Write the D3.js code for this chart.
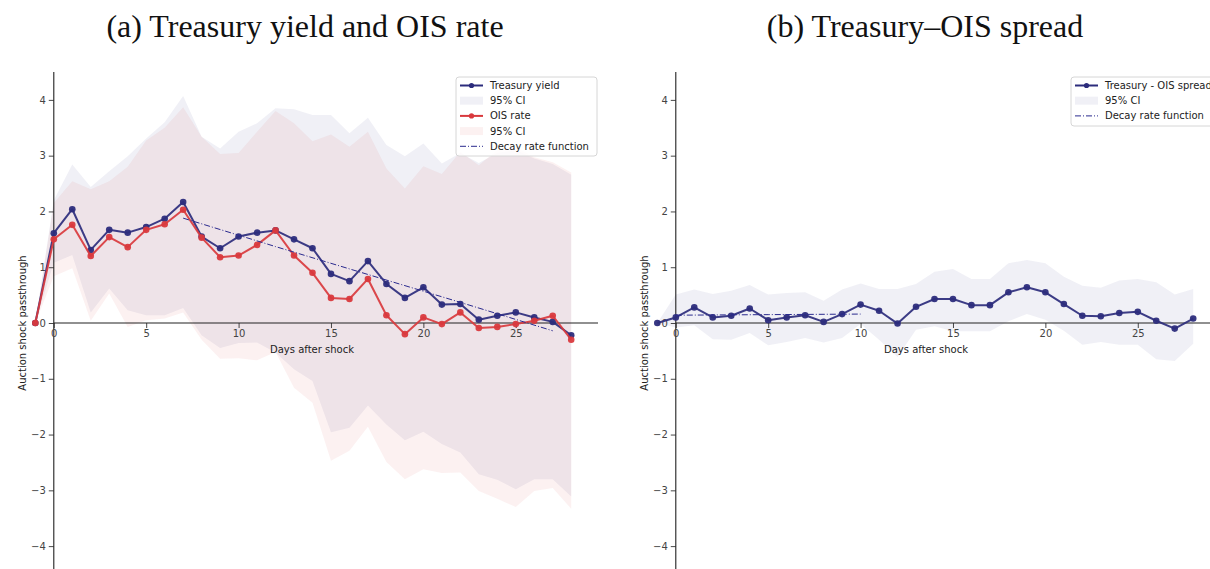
<!DOCTYPE html>
<html>
<head>
<meta charset="utf-8">
<script src="https://cdn.jsdelivr.net/npm/d3@7"></script>
<style>
  html, body { margin: 0; padding: 0; background: #fff; }
  svg { display: block; }
  text { font-family: "DejaVu Sans", sans-serif; }
</style>
</head>
<body>
<svg id="chart" width="1210" height="569"></svg>
<script>
// ---------------- DATA ----------------
const days = [-1,0,1,2,3,4,5,6,7,8,9,10,11,12,13,14,15,16,17,18,19,20,21,22,23,24,25,26,27,28];

const treasury = [0,1.61,2.04,1.31,1.67,1.62,1.72,1.87,2.17,1.55,1.34,1.55,1.62,1.66,1.50,1.34,0.88,0.75,1.11,0.70,0.45,0.64,0.33,0.34,0.06,0.13,0.19,0.10,0.02,-0.22];
const treasuryUpper = [0,2.20,2.84,2.44,2.72,2.99,3.31,3.60,4.07,3.34,3.13,3.43,3.58,3.85,3.83,3.73,3.73,3.40,3.68,3.19,2.99,3.22,2.86,3.05,2.87,3.05,3.10,2.95,2.85,2.66];
const treasuryLower = [0,1.08,1.22,0.19,0.62,0.23,0.14,0.14,0.27,-0.22,-0.45,-0.36,-0.35,-0.53,-0.83,-1.04,-1.96,-1.88,-1.48,-1.82,-2.10,-1.95,-2.17,-2.32,-2.71,-2.81,-2.98,-2.80,-2.80,-3.11];

const ois = [0,1.50,1.76,1.20,1.54,1.36,1.67,1.77,2.03,1.53,1.18,1.21,1.40,1.66,1.21,0.90,0.45,0.43,0.79,0.14,-0.20,0.10,-0.02,0.19,-0.09,-0.07,-0.02,0.04,0.13,-0.30];
const oisUpper = [0,2.15,2.54,2.40,2.54,2.80,3.27,3.50,3.87,3.34,3.03,3.05,3.43,3.80,3.58,3.26,3.38,3.16,3.43,2.77,2.41,2.81,2.67,3.07,2.83,3.10,3.15,2.97,2.88,2.70];
const oisLower = [0,0.84,0.98,0.04,0.53,-0.07,0.05,0.08,0.19,-0.30,-0.64,-0.63,-0.67,-0.52,-1.16,-1.43,-2.47,-2.29,-1.86,-2.49,-2.80,-2.62,-2.69,-2.68,-3.01,-3.15,-3.30,-3.01,-2.96,-3.33];

const spread = [0,0.10,0.28,0.10,0.13,0.26,0.05,0.10,0.14,0.02,0.16,0.33,0.22,-0.01,0.29,0.43,0.43,0.32,0.32,0.55,0.64,0.55,0.34,0.13,0.12,0.18,0.20,0.04,-0.10,0.08];
const spreadUpper = [0,0.51,0.60,0.52,0.58,0.68,0.51,0.54,0.55,0.40,0.60,0.71,0.61,0.61,0.70,0.92,0.97,0.79,0.79,1.07,1.13,1.07,0.83,0.67,0.63,0.76,0.79,0.73,0.51,0.61];
const spreadLower = [0,-0.08,-0.04,-0.29,-0.30,-0.18,-0.40,-0.34,-0.27,-0.35,-0.27,-0.02,-0.30,-0.61,-0.12,-0.06,-0.15,-0.15,-0.15,0.03,0.16,0.06,-0.14,-0.39,-0.34,-0.39,-0.39,-0.65,-0.68,-0.37];

const decayLeftX = [7,12,17,22,27];
const decayLeftY = [1.88,1.37,0.87,0.37,-0.14];
const decayRightX = [0,5,10];
const decayRightY = [0.14,0.15,0.16];

const xTicks = [0,5,10,15,20,25];
const yTicks = [-4,-3,-2,-1,0,1,2,3,4];

const titles = ["(a) Treasury yield and OIS rate", "(b) Treasury\u2013OIS spread"];
const xLabel = "Days after shock";
const yLabel = "Auction shock passthrough";
const legendLeft = ["Treasury yield","95% CI","OIS rate","95% CI","Decay rate function"];
const legendRight = ["Treasury - OIS spread","95% CI","Decay rate function"];

// ---------------- STYLE ----------------
const NAVY = "#2c2c7c";
const RED = "#d9393d";
const DECAY = "#2a2a8e";
const TICKC = "#444";

const svg = d3.select("#chart");

function panel(cfg) {
  const x = d3.scaleLinear().domain([-1.45, 29.45]).range([cfg.left, cfg.right]);
  const y = d3.scaleLinear().domain([-4.5, 4.5]).range([574, 72]);
  const g = svg.append("g");

  const area = (lo, hi) => d3.area()
    .x((d, i) => x(days[i])).y0((d, i) => y(lo[i])).y1((d, i) => y(hi[i]));
  const line = d3.line().x((d, i) => x(days[i])).y(d => y(d));

  // bands
  cfg.bands.forEach(b => {
    g.append("path").datum(b.lo).attr("d", area(b.lo, b.hi))
      .attr("fill", b.color).attr("fill-opacity", b.op).attr("stroke", "none");
  });

  // axes (spines at zero)
  const yAxis = d3.axisLeft(y).tickValues(yTicks).tickSize(5).tickPadding(3)
    .tickFormat(d => d < 0 ? "\u2212" + Math.abs(d) : d);
  const ya = g.append("g").attr("transform", `translate(${x(0)},0)`).call(yAxis);
  ya.select(".domain").remove();
  ya.append("line").attr("x1", 0).attr("x2", 0).attr("y1", 72).attr("y2", 574)
    .attr("stroke", "#222").attr("stroke-width", 1.1);

  const xAxis = d3.axisBottom(x).tickValues(xTicks).tickSize(5).tickPadding(2);
  const xa = g.append("g").attr("transform", `translate(0,${y(0)})`).call(xAxis);
  xa.select(".domain").remove();
  xa.append("line").attr("x1", x(0)).attr("x2", cfg.right).attr("y1", 0).attr("y2", 0)
    .attr("stroke", "#222").attr("stroke-width", 1.1);

  [ya, xa].forEach(a => {
    a.selectAll(".tick line").attr("stroke", "#333").attr("stroke-width", 0.9);
    a.selectAll(".tick text").attr("fill", TICKC).style("font-size", "10px")
      .style("font-family", "'DejaVu Sans', sans-serif");
  });

  // series lines
  cfg.series.forEach(s => {
    g.append("path").datum(s.values).attr("d", line).attr("fill", "none")
      .attr("stroke", s.color).attr("stroke-width", 2).attr("stroke-opacity", 0.92)
      .attr("stroke-linejoin", "round");
    g.selectAll(null).data(s.values).enter().append("circle")
      .attr("cx", (d, i) => x(days[i])).attr("cy", d => y(d)).attr("r", 3.3)
      .attr("fill", s.color).attr("fill-opacity", 0.95);
  });

  // decay line
  const dl = d3.line().x(d => x(d[0])).y(d => y(d[1]));
  g.append("path").datum(cfg.decay).attr("d", dl).attr("fill", "none")
    .attr("stroke", DECAY).attr("stroke-width", 1).attr("stroke-dasharray", "6,2,1,2");

  // labels
  g.append("text").attr("x", cfg.xlabelX).attr("y", 353).attr("text-anchor", "middle")
    .attr("fill", "#222").style("font-size", "10px").text(xLabel);
  g.append("text").attr("transform", `translate(${cfg.ylabelX},323) rotate(-90)`)
    .attr("text-anchor", "middle").attr("fill", "#222").style("font-size", "10px").text(yLabel);

  g.append("text").attr("x", cfg.titleX).attr("y", 37).attr("text-anchor", "middle")
    .attr("fill", "#111").style("font-family", "'Liberation Serif', 'DejaVu Serif', serif")
    .style("font-size", "32px").text(cfg.title);

  // legend
  const L = cfg.legend;
  const lg = g.append("g");
  lg.append("rect").attr("x", L.x).attr("y", L.y).attr("width", L.w).attr("height", L.h)
    .attr("rx", 3).attr("fill", "#fff").attr("fill-opacity", 0.85)
    .attr("stroke", "#d6d6d6").attr("stroke-width", 1);
  L.items.forEach((it, i) => {
    const cy = L.y + 8.5 + i * 15.2;
    const sx = L.x + 4;
    if (it.type === "line") {
      lg.append("line").attr("x1", sx).attr("x2", sx + 23).attr("y1", cy).attr("y2", cy)
        .attr("stroke", it.color).attr("stroke-width", 2);
      lg.append("circle").attr("cx", sx + 11.5).attr("cy", cy).attr("r", 2.6).attr("fill", it.color);
    } else if (it.type === "patch") {
      lg.append("rect").attr("x", sx).attr("y", cy - 4).attr("width", 23).attr("height", 8)
        .attr("fill", it.color).attr("fill-opacity", it.op);
    } else {
      lg.append("line").attr("x1", sx).attr("x2", sx + 23).attr("y1", cy).attr("y2", cy)
        .attr("stroke", DECAY).attr("stroke-width", 1).attr("stroke-dasharray", "6,2,1,2");
    }
    lg.append("text").attr("x", sx + 30).attr("y", cy).attr("dy", "0.35em")
      .attr("fill", "#222").style("font-size", "10px").text(it.label);
  });
}

const BAND_OP = 0.07;

panel({
  left: 27, right: 598, title: titles[0], titleX: 305, xlabelX: 312, ylabelX: 26,
  bands: [
    { lo: treasuryLower, hi: treasuryUpper, color: NAVY, op: BAND_OP },
    { lo: oisLower, hi: oisUpper, color: RED, op: BAND_OP }
  ],
  series: [
    { values: treasury, color: NAVY },
    { values: ois, color: RED }
  ],
  decay: decayLeftX.map((d, i) => [d, decayLeftY[i]]),
  legend: { x: 456, y: 77, w: 141, h: 79, items: [
    { type: "line", color: NAVY, label: legendLeft[0] },
    { type: "patch", color: NAVY, op: BAND_OP, label: legendLeft[1] },
    { type: "line", color: RED, label: legendLeft[2] },
    { type: "patch", color: RED, op: BAND_OP, label: legendLeft[3] },
    { type: "decay", label: legendLeft[4] }
  ]}
});

panel({
  left: 649, right: 1220, title: titles[1], titleX: 925, xlabelX: 926, ylabelX: 648,
  bands: [
    { lo: spreadLower, hi: spreadUpper, color: NAVY, op: BAND_OP }
  ],
  series: [
    { values: spread, color: NAVY }
  ],
  decay: decayRightX.map((d, i) => [d, decayRightY[i]]),
  legend: { x: 1071, y: 77, w: 150, h: 49, items: [
    { type: "line", color: NAVY, label: legendRight[0] },
    { type: "patch", color: NAVY, op: BAND_OP, label: legendRight[1] },
    { type: "decay", label: legendRight[2] }
  ]}
});
</script>
</body>
</html>
